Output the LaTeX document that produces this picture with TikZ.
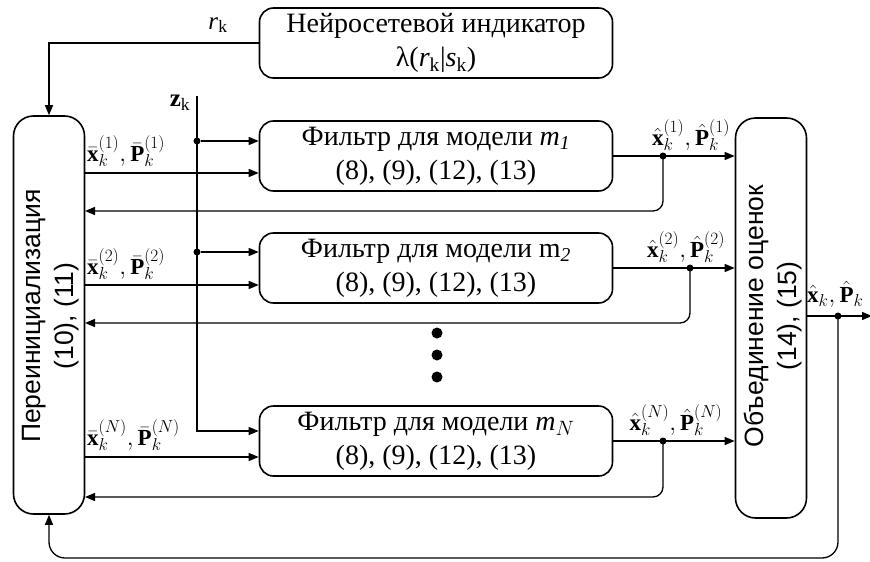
\documentclass[tikz,border=0pt]{standalone}
\usepackage{fontspec}
\setmainfont{Liberation Serif}
\newfontfamily\sansf{Liberation Sans}
\usetikzlibrary{arrows.meta}
\begin{document}
\begin{tikzpicture}[x=1pt,y=-1pt,
 box/.style={draw,line width=1.6pt,rounded corners=14pt,minimum width=353pt,minimum height=70pt,inner sep=0pt,align=center,font=\fontsize{28}{34}\selectfont},
 vbox/.style={draw,line width=1.6pt,rounded corners=20pt,minimum width=71pt,inner sep=0pt},
 vtext/.style={rotate=90,align=center,font=\sansf\fontsize{26.5}{33}\selectfont,inner sep=0pt},
 conn/.style={line width=1.3pt,-{Triangle[length=10pt,width=8pt]}},
 dot/.style={circle,fill,inner sep=0pt,minimum size=7pt},
 bigdot/.style={circle,fill,inner sep=0pt,minimum size=11pt},
 lbl/.style={font=\fontsize{23}{26}\selectfont,inner sep=1pt}]
\useasboundingbox (0,0) rectangle (870,562);
% boxes
\node[box] (ind) at (436,43) {Нейросетевой индикатор\\λ(\textit{r}$_\mathrm{k}$|\textit{s}$_\mathrm{k}$)};
\node[box] (f1) at (436,156) {Фильтр для модели \textit{m}$_{\mathit{1}}$\\(8), (9), (12), (13)};
\node[box] (f2) at (436,268) {Фильтр для модели m$_{\mathit{2}}$\\(8), (9), (12), (13)};
\node[box] (fN) at (436,441) {Фильтр для модели \textit{m}$_{N}$\\(8), (9), (12), (13)};
\node[vbox,minimum height=398pt] (L) at (49,315) {};
\node[vtext] (Lt) at (51,316) {Переинициализация\\(10), (11)};
\node[vbox,minimum height=400pt] (R) at (771,318) {};
\node[vtext] (Rt) at (773,316) {Объединение оценок\\(14), (15)};
% dots
\node[bigdot] (e1) at (437,333) {};
\node[bigdot] (e2) at (437,355) {};
\node[bigdot] (e3) at (437,377) {};
% r_k
\draw[conn] (ind.west) -| (L.north);
\node[lbl,font=\fontsize{25}{28}\selectfont] (rk) at (218,25) {\textit{r}$_\mathrm{k}$};
% z_k
\coordinate (ztop) at (197,96);
\node[lbl,font=\fontsize{25}{28}\selectfont] (zk) at (180,103) {$\mathbf{z}_\mathrm{k}$};
\draw[conn] (ztop) |- ([yshift=10pt]fN.west);
\node[dot] (d1) at (197,141) {};
\node[dot] (d2) at (197,252) {};
\draw[conn] (d1) -- (f1.west|-d1);
\draw[conn] (d2) -- (f2.west|-d2);
% reinit inputs
\draw[conn] ([yshift=-17pt]f1.west -| L.east) -- ([yshift=-17pt]f1.west);
\draw[conn] ([yshift=-17pt]f2.west -| L.east) -- ([yshift=-17pt]f2.west);
\draw[conn] ([yshift=-16pt]fN.west -| L.east) -- ([yshift=-16pt]fN.west);
\node[lbl,anchor=south west] (a1) at (86,168) {$\bar{\mathbf{x}}_k^{(1)}, \bar{\mathbf{P}}_k^{(1)}$};
\node[lbl,anchor=south west] (a2) at (86,281) {$\bar{\mathbf{x}}_k^{(2)}, \bar{\mathbf{P}}_k^{(2)}$};
\node[lbl,anchor=south west] (aN) at (86,452) {$\bar{\mathbf{x}}_k^{(N)}, \bar{\mathbf{P}}_k^{(N)}$};
% outputs
\draw[conn] (f1.east) -- (R.west|-f1.east);
\draw[conn] (f2.east) -- (R.west|-f2.east);
\draw[conn] (fN.east) -- (R.west|-fN.east);
\node[dot] (o1) at (663,156) {};
\node[dot] (o2) at (690,268) {};
\node[dot] (oN) at (663,441) {};
\coordinate (b1) at (85,211);
\coordinate (b2) at (85,323);
\coordinate (bN) at (85,497);
\draw[conn,rounded corners=10pt] (o1.center) |- (b1);
\draw[conn,rounded corners=10pt] (o2.center) |- (b2);
\draw[conn,rounded corners=10pt] (oN.center) |- (bN);
\node[lbl,anchor=south] (h1) at (691,152) {$\hat{\mathbf{x}}_k^{(1)}, \hat{\mathbf{P}}_k^{(1)}$};
\node[lbl,anchor=south] (h2) at (686,264) {$\hat{\mathbf{x}}_k^{(2)}, \hat{\mathbf{P}}_k^{(2)}$};
\node[lbl,anchor=south] (hN) at (676,437) {$\hat{\mathbf{x}}_k^{(N)}, \hat{\mathbf{P}}_k^{(N)}$};
% final output
\node[dot] (od) at (838,316) {};
\coordinate (oend) at (872,316);
\draw[conn] (R.east|-od) -- (oend);
\node[lbl,anchor=south west] (hf) at (806,309) {$\hat{\mathbf{x}}_k, \hat{\mathbf{P}}_k$};
\coordinate (lp) at (838,558);
\draw[conn,rounded corners=16pt] (od.center) -- (lp) -| (L.south);
\end{tikzpicture}
\end{document}
